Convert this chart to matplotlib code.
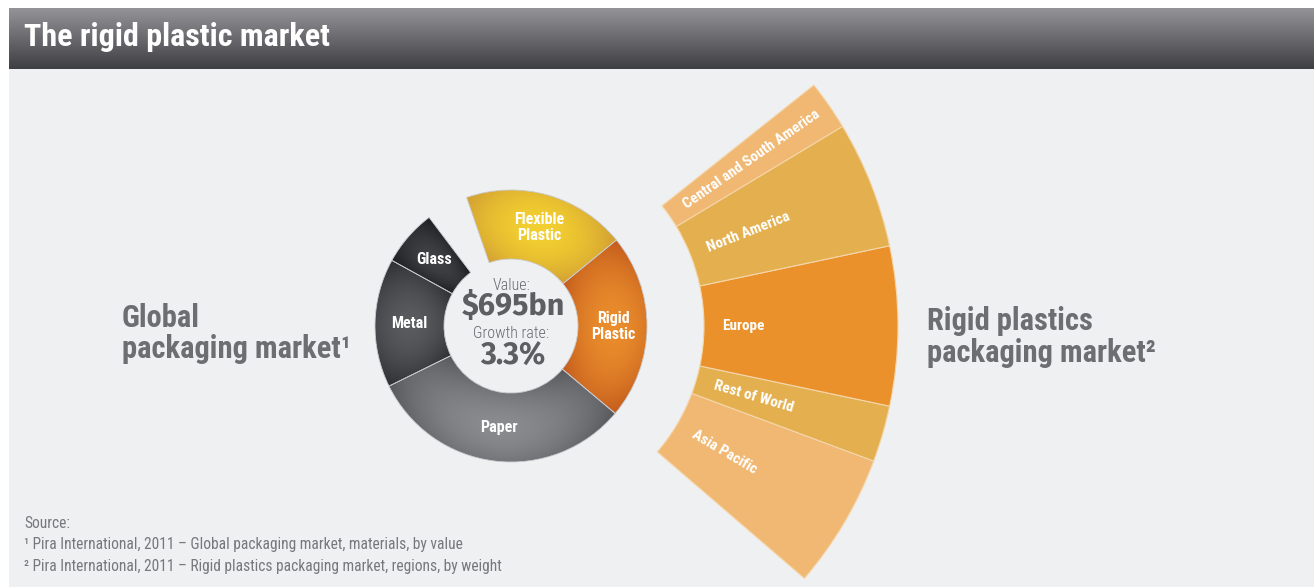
import numpy as np
import matplotlib
matplotlib.use("Agg")
import matplotlib.pyplot as plt
from matplotlib import font_manager
from matplotlib.colors import to_rgb
from matplotlib.patches import Rectangle

W, H = 1314, 587

# global packaging market by material, % of value (counter-clockwise from rigid plastic)
materials = ["Rigid\nPlastic", "Flexible\nPlastic", "Other", "Glass", "Metal", "Paper"]
material_share = [22.0, 19.4, 5.0, 6.7, 15.3, 31.6]
material_colors = {  # (middle, edge) of each wedge's shading
    "Rigid\nPlastic": ("#ea8d2c", "#c35b1d"),
    "Flexible\nPlastic": ("#f3d030", "#d29f33"),
    "Glass": ("#404145", "#1c1d20"),
    "Metal": ("#5a5b5f", "#2e2f33"),
    "Paper": ("#8a8b8f", "#57585c"),
}

# rigid plastics packaging by region, % of weight (bottom to top)
regions = ["Asia Pacific", "Rest of World", "Europe", "North America", "Central and South America"]
region_share = [25.6, 10.7, 30.2, 24.1, 9.4]
region_colors = ["#f1b873", "#e4b04f", "#ea912c", "#e4b04f", "#f0b873"]

sources = ["Source:",
           "\u00b9 Pira International, 2011 \u2013 Global packaging market, materials, by value",
           "\u00b2 Pira International, 2011 \u2013 Rigid plastics packaging market, regions, by weight"]

names = {f.name for f in font_manager.fontManager.ttflist}


def pick(*cands):
    return next((c for c in cands if c in names), "DejaVu Sans")


NARROW = [pick("Roboto Condensed", "Liberation Sans Narrow", "PT Sans Narrow"), "DejaVu Sans"]
NUM = [pick("Fira Sans", "Lato"), "DejaVu Sans"]


def Y(y):  # image rows run downwards, axes run upwards
    return H - y


def shade_wedge(ax, w, c_mid, c_edge, cx, cy):
    '''Paint a wedge with a soft vignette: light in its middle, darker to its edges'''
    ext = w.get_path().get_extents()
    xs = np.arange(np.floor(ext.x0), np.ceil(ext.x1) + 1)
    ys = np.arange(np.floor(ext.y0), np.ceil(ext.y1) + 1)
    X, Yg = np.meshgrid(xs, ys)
    r = np.hypot(X - cx, Yg - cy)
    th = np.degrees(np.arctan2(Yg - cy, X - cx))
    mid = (w.theta1 + w.theta2) / 2
    span = (w.theta2 - w.theta1) / 2
    u = (((th - mid + 180) % 360) - 180) / span
    rmid = w.r - w.width / 2
    v = (r - rmid) / (w.width / 2)
    t = np.clip(np.sqrt(0.8 * u ** 2 + 0.5 * v ** 2) / 1.15, 0, 1) ** 1.8
    a, b = np.array(to_rgb(c_mid)), np.array(to_rgb(c_edge))
    img = a + (b - a) * t[..., None]
    im = ax.imshow(img, extent=(xs[0], xs[-1], ys[0], ys[-1]), origin="lower",
                   interpolation="bilinear", zorder=2)
    im.set_clip_path(w)


fig = plt.figure(figsize=(W / 100, H / 100), dpi=100, facecolor="white")
ax = fig.add_axes([0, 0, 1, 1])
ax.set_facecolor("white")

# panel and header bar
ax.add_patch(Rectangle((9, 0), W - 9, Y(69), color="#eff0f2", zorder=0.5, lw=0))
grad = np.linspace(0, 1, 64)[:, None, None]
top, bot = np.array(to_rgb("#939398")), np.array(to_rgb("#3e3e43"))
ax.imshow(top + (bot - top) * grad, extent=(9, W, Y(69), Y(8)), aspect="auto", zorder=0.6)
ax.text(24, Y(46), "The rigid plastic market", color="white", fontsize=23, fontweight="bold",
        family=NARROW, va="baseline", ha="left", zorder=5)

# donut of materials
cx, cy = 511, Y(326)
r_out, r_in = 136, 67
wedges, _ = ax.pie(material_share, radius=r_out, center=(cx, cy), startangle=-40,
                   counterclock=True, frame=True,
                   wedgeprops=dict(width=r_out - r_in, linewidth=0.6, edgecolor="#c9cacd"))
for w, name in zip(wedges, materials):
    if name not in material_colors:
        w.set_visible(False)
        continue
    c_mid, c_edge = material_colors[name]
    shade_wedge(ax, w, c_mid, c_edge, cx, cy)
    w.set_facecolor("none")
    w.set_zorder(3)
    ang = np.radians((w.theta1 + w.theta2) / 2)
    ax.text(cx + 102 * np.cos(ang), cy + 102 * np.sin(ang), name, color="white", fontsize=11.5,
            fontweight="bold", family=NARROW, ha="center", va="center",
            linespacing=1.1, zorder=5)

# centre figures
gray = "#5d5e62"
ax.text(cx + 1, Y(285), "Value:", color="#6a6b6f", fontsize=11.5, family=NARROW,
        fontweight="light", ha="center", va="center", zorder=5)
ax.text(cx + 2, Y(306), "$695bn", color=gray, fontsize=22, fontweight="bold", family=NUM,
        ha="center", va="center", zorder=5)
ax.text(cx, Y(334), "Growth rate:", color="#6a6b6f", fontsize=11.5, family=NARROW,
        fontweight="light", ha="center", va="center", zorder=5)
ax.text(cx + 2, Y(357), "3.3%", color=gray, fontsize=22, fontweight="bold", family=NUM,
        ha="center", va="center", zorder=5)

# fan of regions, spanning the rigid plastic wedge
rigid = wedges[0]
fan_share = np.array(region_share) / sum(region_share) * material_share[0] / 100
fan, _ = ax.pie(fan_share, radius=387, center=(cx, cy), startangle=rigid.theta1 - 0.7,
                normalize=False, counterclock=True, frame=True, colors=region_colors,
                wedgeprops=dict(width=194, linewidth=0.8, edgecolor="#f4d6aa"))
for w, name in zip(fan, regions):
    w.set_zorder(2)
    deg = (w.theta1 + w.theta2) / 2
    ang = np.radians(deg)
    ax.text(cx + 211 * np.cos(ang), cy + 211 * np.sin(ang), name, color="white", fontsize=11,
            fontweight="bold", family=NARROW, rotation=deg,
            rotation_mode="anchor", ha="left", va="center", zorder=5)

# side captions
cap = dict(color="#6d6e72", fontsize=22, fontweight="bold", family=NARROW,
           ha="left", va="baseline", zorder=5)
ax.text(122, Y(327), "Global", **cap)
ax.text(122, Y(358), "packaging market\u00b9", **cap)
ax.text(927, Y(330), "Rigid plastics", **cap)
ax.text(927, Y(362), "packaging market\u00b2", **cap)

# sources
for i, s in enumerate(sources):
    ax.text(24, Y(523 + 22 * i), s, color="#77787c", fontsize=11.2, family=NARROW,
            ha="left", va="center", zorder=5)

ax.set_xlim(0, W)
ax.set_ylim(0, H)
ax.set_aspect("auto")
ax.axis("off")
fig.savefig("out.png", dpi=100, facecolor="white")
